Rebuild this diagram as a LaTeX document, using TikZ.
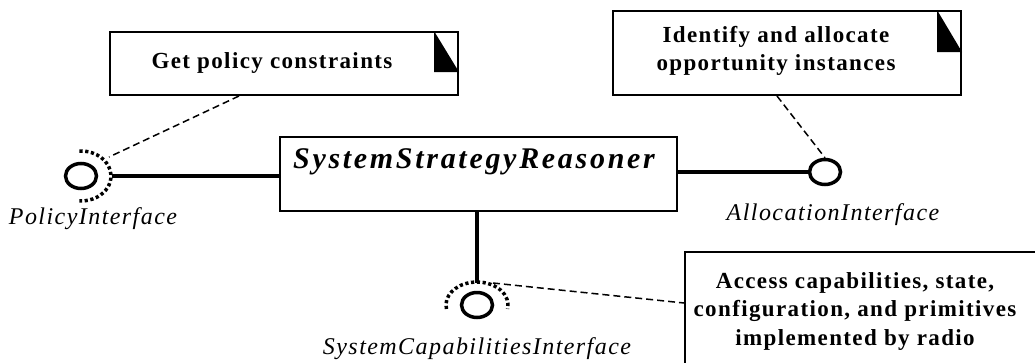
\documentclass[tikz,border=0pt]{standalone}
\usepackage{fontspec}
\setmainfont{Liberation Serif}
\newfontfamily\notefont[LetterSpace=6]{Liberation Serif}
\newfontfamily\labfont[LetterSpace=6]{Liberation Serif}
\newfontfamily\compfont[LetterSpace=9]{Liberation Serif}
\usetikzlibrary{calc,shapes.geometric}
\tikzset{
  note/.style={draw, line width=2pt, fill=white, inner sep=0pt},
  notetext/.style={align=center, inner sep=0pt, font=\notefont\bfseries\fontsize{23}{27.5}\selectfont},
  comp/.style={draw, line width=2pt, fill=white, inner sep=0pt},
  comptext/.style={font=\compfont\bfseries\itshape\fontsize{30}{34}\selectfont},
  iface/.style={draw, line width=3.5pt, ellipse, minimum width=31pt, minimum height=25pt, inner sep=0pt},
  dotarc/.style={line width=3.5pt, dash pattern=on 3.2pt off 2.6pt},
  solid link/.style={line width=4pt},
  dash link/.style={line width=1.5pt, dash pattern=on 7pt off 4pt},
  flap/.style={fill=black},
  ilabel/.style={font=\labfont\itshape\fontsize{24}{28}\selectfont}
}
\begin{document}
\begin{tikzpicture}[x=1pt,y=-1pt]
\useasboundingbox (0,0) rectangle (1035,362);
\clip (0,0) rectangle (1035,362);
% notes
\node[note, minimum width=348pt, minimum height=63pt] (n1) at (284,63.5) {};
\fill[flap] ($(n1.north east)+(-25,0)$) -- ($(n1.north east)+(-25,41)$) -- ($(n1.north east)+(0,41)$) -- cycle;
\node[notetext] (n1t) at ($(n1.center)+(-12,0)$) {Get policy constraints};
\node[note, minimum width=348pt, minimum height=84pt] (n2) at (787,53) {};
\fill[flap] ($(n2.north east)+(-25,0)$) -- ($(n2.north east)+(-25,42)$) -- ($(n2.north east)+(0,42)$) -- cycle;
\node[notetext] (n2t) at ($(n2.center)+(-11,-2)$) {Identify and allocate\\opportunity instances};
\node[note, minimum width=360pt, minimum height=120pt] (n3) at (865,312) {};
\node[notetext, font=\notefont\bfseries\fontsize{23}{28.5}\selectfont] (n3t) at (855,311) {Access capabilities, state,\\configuration, and primitives\\implemented by radio};
% component
\node[comp, minimum width=397pt, minimum height=74pt] (main) at (478.5,174) {};
\node[comptext] (mt) at (474,162) {SystemStrategyReasoner};
% interfaces
\node[iface] (pc) at (81,176) {};
\node[iface] (ac) at (825,172) {};
\node[iface] (sc) at (477,305) {};
\draw[dotarc] (pc.center) ++(-93:30 and 25) arc[start angle=-93, end angle=93, x radius=30, y radius=25];
\draw[dotarc] (sc.center) ++(170:31 and 23) arc[start angle=170, end angle=370, x radius=31, y radius=23];
\coordinate (pcR) at ($(pc.center)+(31,0)$);
\coordinate (pcT) at ($(pc.center)+(28,-19)$);
\coordinate (scT) at ($(sc.center)+(0,-22)$);
\coordinate (scTR) at ($(sc.center)+(16,-22)$);
% solid links
\draw[solid link] (pcR) -- (main.west |- pcR);
\draw[solid link] (main.east |- ac) -- (ac.west);
\draw[solid link] (main.south -| scT) -- (scT);
% dashed links
\draw[dash link] ($(n1.south west)+(130,0)$) -- (pcT);
\draw[dash link] ($(n2.south west)+(165,0)$) -- (ac.north);
\draw[dash link] (scTR) -- (n3.west |- 0,303);
% labels
\node[ilabel] (pl) at (93,219) {PolicyInterface};
\node[ilabel] (al) at (833,215) {AllocationInterface};
\node[ilabel] (sl) at (477,349) {SystemCapabilitiesInterface};
\end{tikzpicture}
\end{document}
